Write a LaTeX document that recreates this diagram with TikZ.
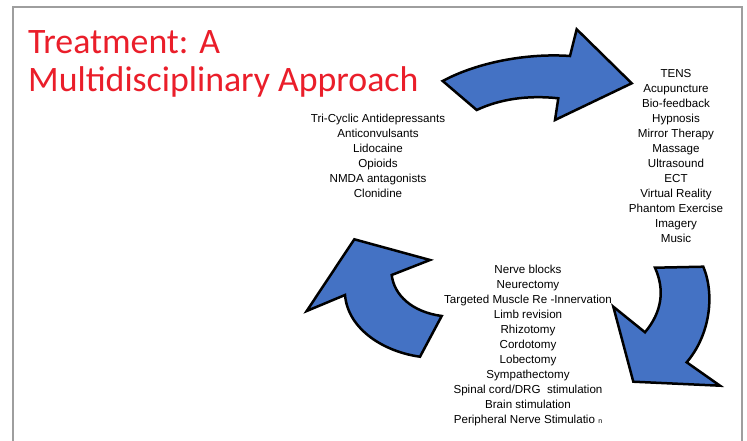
\documentclass[tikz,border=0pt]{standalone}
\usepackage{fontspec}
\setmainfont{Liberation Sans}
\newfontfamily\titlefont{Carlito}
\usepackage{tikz}
\usetikzlibrary{
    arrows.meta,
    positioning,
    calc
}
\definecolor{arrowblue}{RGB}{68,114,196}
\definecolor{titlered}{RGB}{234,30,42}
\definecolor{framegray}{RGB}{158,158,158}

\begin{document}
\begin{tikzpicture}[x=1pt, y=-1pt,
    listtext/.style={align=center, inner sep=0pt, anchor=north,
                     font=\fontsize{11.6}{15}\selectfont},
    bluearrow/.style={fill=arrowblue, draw=black, line width=2.5pt,
                      line join=miter}]
    \useasboundingbox (0,0) rectangle (747,441);

    %% Slide frame
        \draw[framegray, line width=2pt] (13,441) -- (13,7.5) -- (741.5,7.5) -- (741.5,441);

    %% Title
        \node[text=titlered, align=left, anchor=north west,
              inner sep=0pt, font=\titlefont\fontsize{35.8}{38}\selectfont]
              (title) at (28,30.5) {Treatment: A\\Multidisciplinary Approach};

    %% Treatment lists
        \node[listtext] (drugs) at (378,114.2)
              {Tri-Cyclic Antidepressants\\Anticonvulsants\\Lidocaine\\Opioids\\NMDA antagonists\\Clonidine};
        \node[listtext] (therapies) at (676,69.2)
              {TENS\\Acupuncture\\Bio-feedback\\Hypnosis\\Mirror Therapy\\Massage\\Ultrasound\\ECT\\Virtual Reality\\Phantom Exercise\\Imagery\\Music};
        \node[listtext] (procedures) at (528,264.9)
              {Nerve blocks\\Neurectomy\\Targeted Muscle Re -Innervation\\Limb revision\\Rhizotomy\\Cordotomy\\Lobectomy\\Sympathectomy\\Spinal cord/DRG\ \ stimulation\\Brain stimulation\\Peripheral Nerve Stimulatio {\fontsize{7}{8}\selectfont n}};

    %% Cycle arrows
        % top: drugs -> therapies
        \draw[bluearrow] (442.7,81) .. controls (478,62) and (528,53) .. (570,56)
            -- (576.7,29.3) -- (631.7,83.3) -- (555,120) -- (558.3,98.3)
            .. controls (528,95) and (500,99) .. (476.7,110) -- cycle;
        % right: therapies -> procedures
        \draw[bluearrow] (655,267.7) -- (703.3,266.7)
            .. controls (715,295) and (710,335) .. (686.7,362.3)
            -- (720,385.7) -- (633.3,381.7) -- (613.3,306.7) -- (645,332.3)
            .. controls (662,312) and (665,290) .. (655,267.7) -- cycle;
        % left: procedures -> drugs
        \draw[bluearrow] (354.3,239.3) -- (430,260) -- (391.7,275)
            .. controls (394,295) and (412,312) .. (441.7,316)
            -- (420,356.7) .. controls (385,352) and (348,330) .. (345,295)
            -- (306.7,311) -- cycle;
\end{tikzpicture}
\end{document}
